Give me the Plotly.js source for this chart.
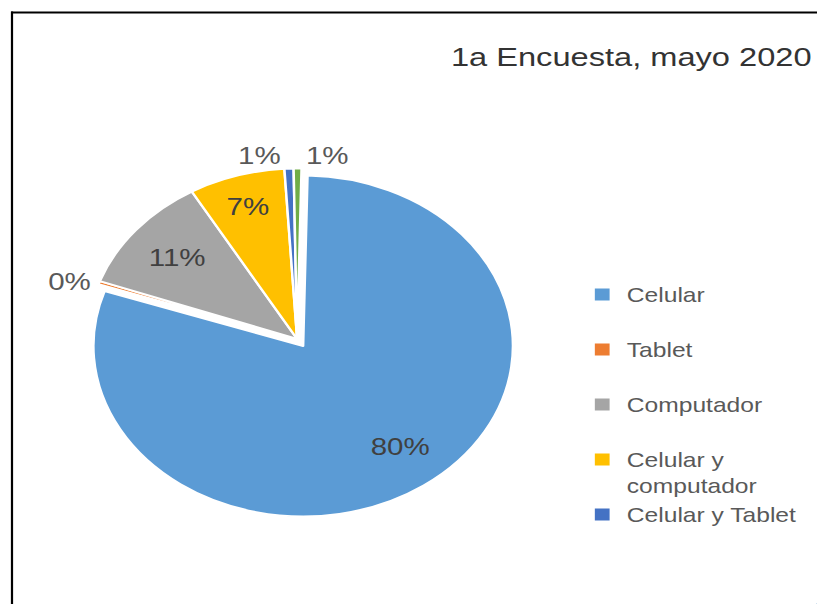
<!DOCTYPE html>
<html>
<head>
<meta charset="utf-8">
<script src="https://cdn.plot.ly/plotly-3.0.1.min.js"></script>
<style>
  html, body { margin: 0; padding: 0; background: #fff; overflow: hidden; }
  #wrap { width: 817px; height: 604px; overflow: hidden; position: relative; }
  #chart { width: 664px; height: 604px; transform: scaleX(1.2304); transform-origin: 0 0; }
</style>
</head>
<body>
<div id="wrap"><div id="chart"></div></div>
<script>
// ---- data ----
const categories = ['Celular', 'Tablet', 'Computador', 'Celular y computador', 'Celular y Tablet', 'Computador y Tablet'];
const values = [79.8, 0.3, 11.1, 7.4, 0.7, 0.6];
const colors = ['#5B9BD5', '#ED7D31', '#A5A5A5', '#FFC000', '#4472C4', '#70AD47'];
const legendLabels = ['Celular<br> ', 'Tablet<br> ', 'Computador<br> ', 'Celular y<br>computador', 'Celular y Tablet'];
const titleText = '1a Encuesta, mayo 2020';

const W = 664, H = 604;
const pull = [0.05, 0, 0, 0, 0, 0];
const textpos = ['inside', 'outside', 'inside', 'inside', 'outside', 'outside'];
const NB = '\u00A0';
const pad80 = NB + '<br>' + NB + '<br>' + NB.repeat(9) + '%{percent:.0%}';
const templates = [pad80, '%{percent:.0%}', '%{percent:.0%}', '%{percent:.0%}', '%{percent:.0%}', '%{percent:.0%}'];

const mainPie = {
  type: 'pie',
  labels: categories,
  values: values,
  sort: false,
  direction: 'clockwise',
  rotation: 1.2,
  pull: pull,
  marker: { colors: colors, line: { color: '#ffffff', width: 2 } },
  texttemplate: templates,
  textposition: textpos,
  insidetextorientation: 'horizontal',
  textfont: { family: 'Liberation Sans, Arial, sans-serif', size: 24, color: '#404040' },
  outsidetextfont: { family: 'Liberation Sans, Arial, sans-serif', size: 24, color: '#595959' },
  automargin: false,
  showlegend: false,
  hoverinfo: 'label+percent',
  domain: { x: [62 / W, 421 / W], y: [1 - 518 / H, 1 - 160 / H] }
};

// legend-only pie (zero size) listing the first five categories
const legendPie = {
  type: 'pie',
  labels: legendLabels,
  values: values.slice(0, 5),
  sort: false,
  marker: { colors: colors.slice(0, 5) },
  textinfo: 'none',
  hoverinfo: 'skip',
  showlegend: true,
  domain: { x: [0.999, 1], y: [0, 0.001] }
};

const layout = {
  width: W,
  height: H,
  margin: { l: 0, r: 0, t: 0, b: 0 },
  paper_bgcolor: '#ffffff',
  plot_bgcolor: '#ffffff',
  font: { family: 'Liberation Sans, Arial, sans-serif', color: '#595959' },
  title: {
    text: titleText,
    font: { family: 'Liberation Sans, Arial, sans-serif', size: 26.5, color: '#333333' },
    xref: 'container', yref: 'container',
    x: 366.5 / W, xanchor: 'left',
    y: 1 - 57 / H, yanchor: 'middle'
  },
  showlegend: true,
  legend: {
    x: 0.707, xanchor: 'left',
    y: 1 - 275 / H, yanchor: 'top',
    valign: 'top',
    font: { family: 'Liberation Sans, Arial, sans-serif', size: 20, color: '#595959' },
    bgcolor: 'rgba(0,0,0,0)'
  },
  shapes: [
    { type: 'line', xref: 'paper', yref: 'paper', x0: 9.75 / W, x1: 9.75 / W, y0: -0.05, y1: 1 - 11.5 / H,
      line: { color: '#000000', width: 1.8 } },
    { type: 'line', xref: 'paper', yref: 'paper', x0: 9 / W, x1: 1.05, y0: 1 - 12.5 / H, y1: 1 - 12.5 / H,
      line: { color: '#000000', width: 2 } }
  ]
};

Plotly.newPlot('chart', [mainPie, legendPie], layout, { displayModeBar: false, staticPlot: false });
</script>
</body>
</html>
